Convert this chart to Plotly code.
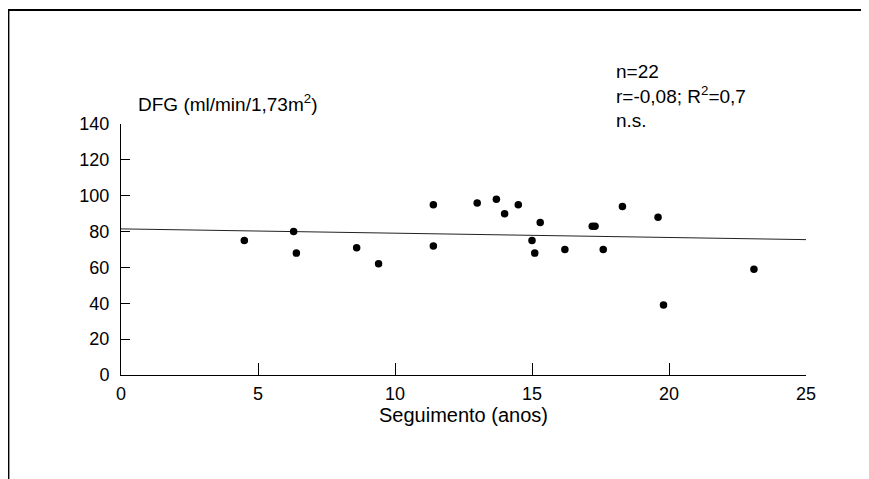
import plotly.graph_objects as go

# follow-up (years) and GFR values
seguimento = [4.5, 6.3, 6.4, 8.6, 9.4, 11.4, 11.4, 13.0, 13.7, 14.0, 14.5,
              15.3, 15.0, 15.1, 16.2, 17.2, 17.3, 17.6, 18.3, 19.6, 19.8, 23.1]
dfg = [75, 80, 68, 71, 62, 95, 72, 96, 98, 90, 95,
       85, 75, 68, 70, 83, 83, 70, 94, 88, 39, 59]

# regression line end points
reta_x = [0, 25]
reta_y = [81.5, 75.5]

x_ticks = [0, 5, 10, 15, 20, 25]
y_ticks = [0, 20, 40, 60, 80, 100, 120, 140]

fonte = "Liberation Sans, Arial, Helvetica, sans-serif"

fig = go.Figure()
fig.add_trace(go.Scatter(
    x=reta_x, y=reta_y, mode="lines",
    line=dict(color="#222222", width=1), hoverinfo="skip"
))
fig.add_trace(go.Scatter(
    x=seguimento, y=dfg, mode="markers",
    marker=dict(color="black", size=7.5)
))

# page body has an 8px margin, so the figure is a bit smaller than the window
fig.update_layout(
    width=861, height=471,
    margin=dict(l=113, r=63, t=116, b=104),
    paper_bgcolor="white", plot_bgcolor="white",
    showlegend=False,
    font=dict(family=fonte, size=18, color="black"),
    xaxis=dict(
        range=[0, 25], tickvals=x_ticks, ticks="inside", ticklen=12,
        tickcolor="black", showline=True, linecolor="black", linewidth=1,
        showgrid=False, zeroline=False, ticklabelstandoff=2,
        title=dict(text="Seguimento (anos)", standoff=0, font=dict(size=20)),
    ),
    yaxis=dict(
        range=[0, 140], tickvals=y_ticks, ticks="inside", ticklen=9,
        tickcolor="black", showline=True, linecolor="black", linewidth=1,
        showgrid=False, zeroline=False, ticklabelstandoff=7,
    ),
    annotations=[
        dict(text="DFG (ml/min/1,73m<sup>2</sup>)", xref="paper", yref="paper",
             x=0.022, y=1.0, xanchor="left", yanchor="middle", yshift=21,
             showarrow=False, font=dict(size=19)),
        dict(text="n=22<br>r=-0,08; R<sup>2</sup>=0,7<br>n.s.",
             xref="paper", yref="paper", x=0.72, y=1.0,
             xanchor="left", yanchor="middle", yshift=28, align="left",
             showarrow=False, font=dict(size=19)),
    ],
    shapes=[
        dict(type="line", xref="paper", yref="paper",
             x0=-0.165, x1=1.1, y0=1.454, y1=1.454,
             line=dict(color="black", width=2)),
        dict(type="line", xref="paper", yref="paper",
             x0=-0.164, x1=-0.164, y0=1.454, y1=-0.414,
             line=dict(color="black", width=1.5)),
    ],
)

fig.write_html("out.html")
